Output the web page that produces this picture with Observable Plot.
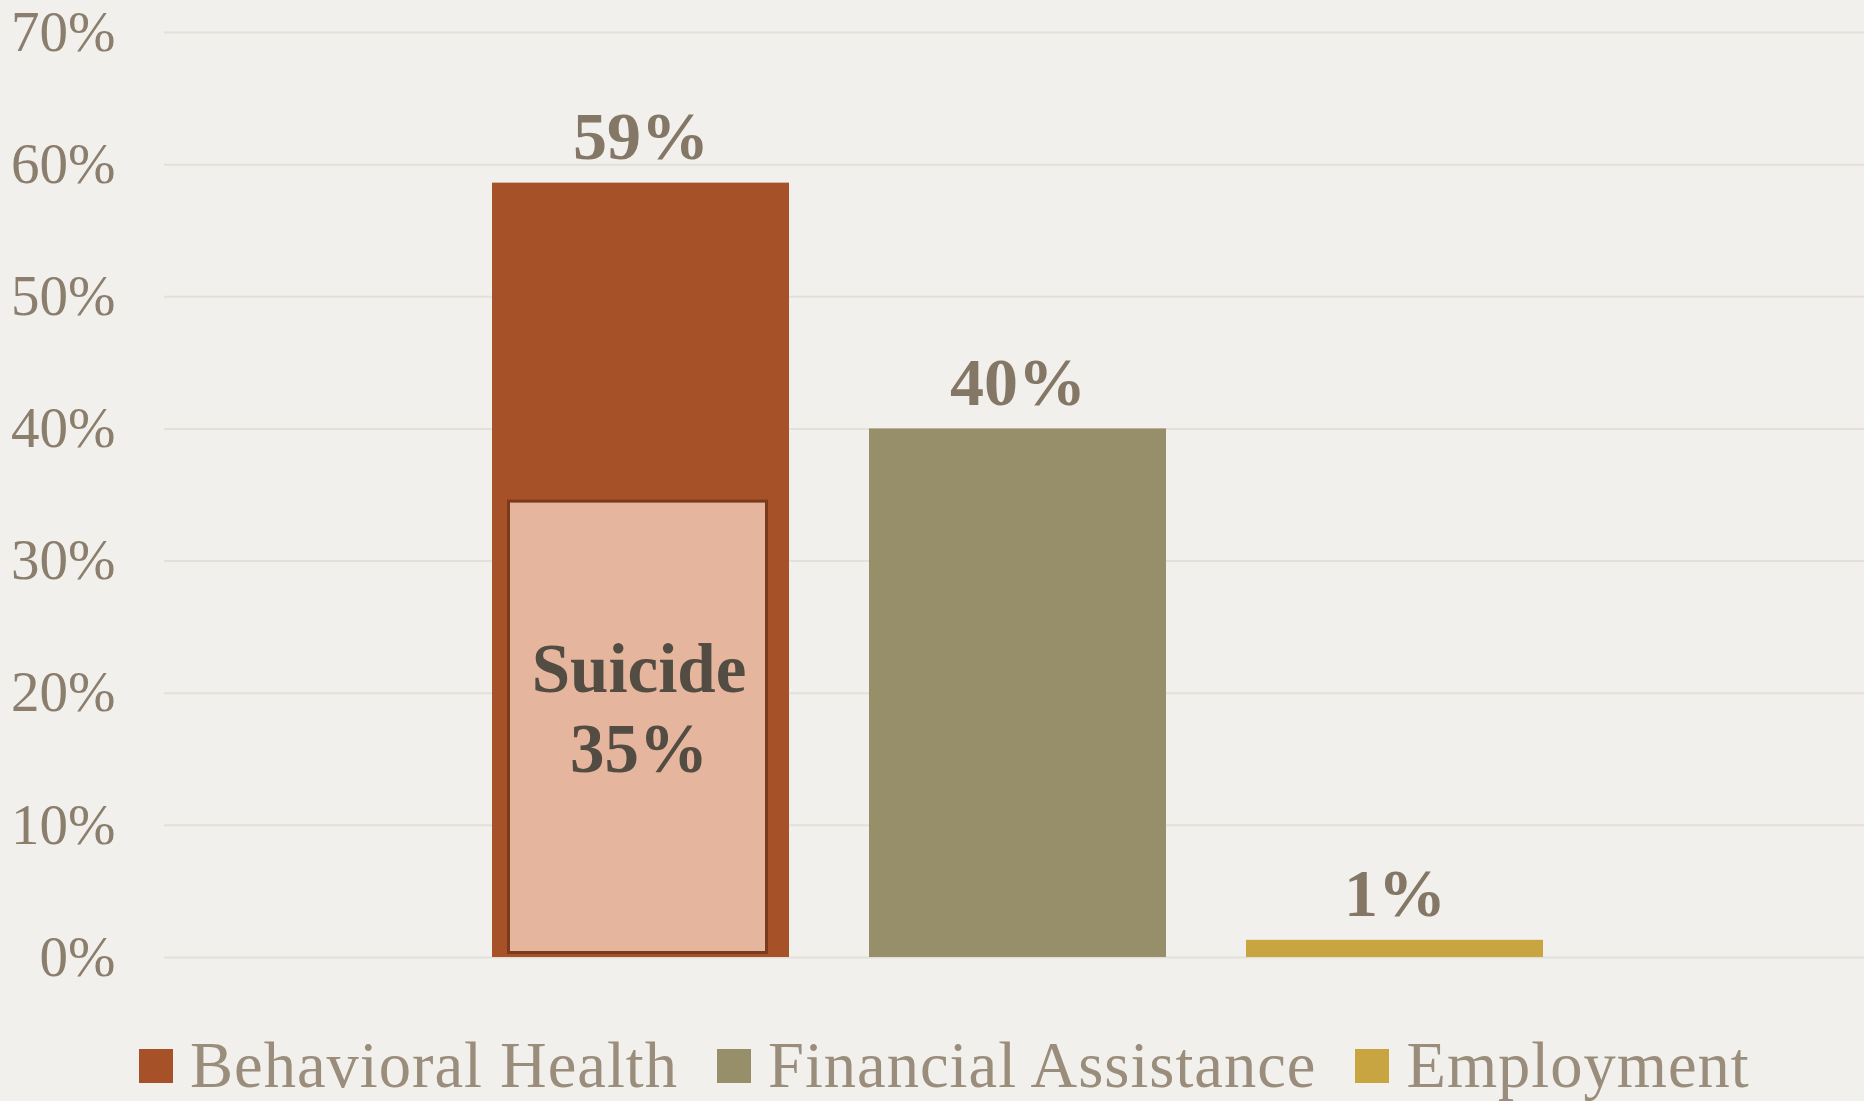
<!DOCTYPE html>
<html>
<head>
<meta charset="utf-8">
<script src="https://cdn.jsdelivr.net/npm/d3@7"></script>
<script src="https://cdn.jsdelivr.net/npm/@observablehq/plot@0.6"></script>
<style>
  html, body { margin: 0; padding: 0; background: #F1F0EC; }
  #wrap { position: relative; width: 1864px; height: 1101px; overflow: hidden; background: #F1F0EC; }
  #legend { position: absolute; top: 1027px; left: 139px; height: 77px; display: flex; align-items: center;
            font-family: "Liberation Serif", serif; font-size: 64.5px; letter-spacing: 1px; color: #9A8D7B; white-space: nowrap; }
  .item { display: flex; align-items: center; margin-right: 39px; }
  .sw { width: 34px; height: 34px; margin-right: 17px; flex: none; }
</style>
</head>
<body>
<div id="wrap"><div id="chart"></div><div id="legend"></div></div>
<script>
const categories = ["Behavioral Health", "Financial Assistance", "Employment"];
const values = [0.586, 0.40, 0.013];
const valueLabels = ["59%", "40%", "1%"];
const colors = ["#A65128", "#978F6A", "#C9A542"];
const subParent = "Behavioral Health";
const subName = "Suicide";
const subValue = 0.345;
const subValueLabel = "35%";
const yTicks = [0, 0.1, 0.2, 0.3, 0.4, 0.5, 0.6, 0.7];

const data = categories.map((c, i) => ({category: c, value: values[i], label: valueLabels[i]}));
const sub = [{category: subParent, value: subValue, mid: subValue / 2, label: subName + "\n" + subValueLabel}];

const chart = Plot.plot({
  width: 1864,
  height: 1000,
  marginLeft: 164,
  marginRight: 0,
  marginTop: 32,
  marginBottom: 43,
  style: {background: "transparent", fontFamily: "Liberation Serif, serif"},
  x: {domain: categories, paddingInner: 0.213, paddingOuter: 0.858, align: 0.505, axis: null},
  y: {domain: [0, 0.7], axis: null},
  color: {domain: categories, range: colors},
  marks: [
    Plot.ruleY(yTicks, {stroke: "#E3E0DA", strokeWidth: 2}),
    Plot.axisY({ticks: yTicks, tickFormat: d3.format(".0%"), tickSize: 0, tickPadding: 49,
                fontSize: 57, color: "#8B7E6D", label: null}),
    Plot.barY(data, {x: "category", y: "value", fill: "category"}),
    Plot.barY(sub, {x: "category", y: "value", fill: "#E6B59E", stroke: "#7A3A1C", strokeWidth: 3,
                    insetLeft: 16.5, insetRight: 22.5, insetBottom: 4.5}),
    Plot.text(data, {x: "category", y: "value", text: "label", dy: -46, fontSize: 68, fontWeight: "bold",
                     fill: "#857766", lineAnchor: "middle"}),
    Plot.text(sub, {x: "category", y: "mid", text: "label", dy: -23, dx: -2, fontSize: 69, fontWeight: "bold",
                    fill: "#524C42", lineAnchor: "middle", lineHeight: 1.15})
  ]
});
document.getElementById("chart").appendChild(chart);

const legend = d3.select("#legend");
categories.forEach((c, i) => {
  const it = legend.append("div").attr("class", "item");
  it.append("div").attr("class", "sw").style("background", colors[i]);
  it.append("span").text(c);
});
</script>
</body>
</html>
